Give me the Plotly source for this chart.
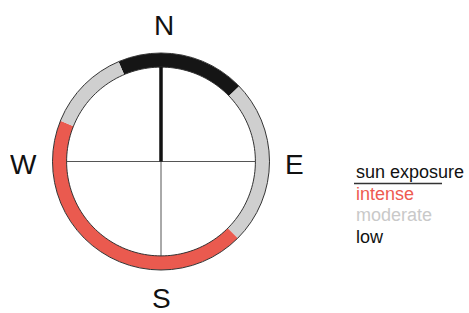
import plotly.graph_objects as go

W, H = 469, 313

# ---- data ----
seg_start = [337, 46, 135, 292]          # bearing (deg, clockwise from N)
seg_end = [46, 135, 292, 337]
seg_level = ["low", "moderate", "intense", "moderate"]
levels = ["intense", "moderate", "low"]
level_colors = {"intense": "#EA5A4F", "moderate": "#CFCFCF", "low": "#151515"}
legend_text_colors = {"intense": "#EE5A50", "moderate": "#C9C9C9", "low": "#111111"}
directions = ["N", "E", "S", "W"]
direction_angles = [0, 90, 180, 270]
legend_title = "sun exposure"

ring_inner = 0.87
ring_outer = 1.0


def px(x):
    return x / W


def py(y):
    return 1 - y / H


fig = go.Figure()

# ring segments
for s, e, lvl in zip(seg_start, seg_end, seg_level):
    span = (e - s) % 360
    center = (s + span / 2) % 360
    fig.add_trace(go.Barpolar(
        r=[ring_outer - ring_inner], base=[ring_inner], theta=[center], width=[span],
        marker=dict(color=level_colors[lvl], line=dict(width=0)),
        showlegend=False, hoverinfo="skip",
    ))

# inner outline of ring
circ_theta = list(range(0, 361, 2))
fig.add_trace(go.Scatterpolar(
    r=[ring_inner] * len(circ_theta), theta=circ_theta, mode="lines",
    line=dict(color="#333333", width=1), showlegend=False, hoverinfo="skip",
))

# thick north needle
fig.add_trace(go.Scatterpolar(
    r=[0, ring_inner], theta=[0, 0], mode="lines",
    line=dict(color="#111111", width=3.5), showlegend=False, hoverinfo="skip",
))

cx, cy, R = 161, 161.5, 108.5
fig.update_layout(
    width=W, height=H,
    margin=dict(l=0, r=0, t=0, b=0),
    paper_bgcolor="white",
    showlegend=False,
    polar=dict(
        domain=dict(x=[px(cx - R), px(cx + R)], y=[py(cy + R), py(cy - R)]),
        bgcolor="white",
        barmode="overlay",
        radialaxis=dict(range=[0, ring_outer], visible=False, showgrid=False),
        angularaxis=dict(
            rotation=90, direction="clockwise",
            tickvals=direction_angles, showticklabels=False, ticks="",
            showgrid=True, gridcolor="#555555", gridwidth=1,
            showline=True, linecolor="#333333", linewidth=1,
        ),
    ),
)

# direction labels
label_pos = {"N": (163.5, 23.5), "E": (294, 162.5), "S": (161.5, 296.5), "W": (23, 162.5)}
for d in directions:
    x, y = label_pos[d]
    fig.add_annotation(
        x=px(x), y=py(y + 1.5), xref="paper", yref="paper", text=d, showarrow=False,
        xanchor="center", yanchor="middle", height=24,
        font=dict(family="Liberation Sans, Arial, sans-serif", size=28, color="#111111"),
    )

# legend
lx = 354
ly0 = 172
dy = 21.7
fig.add_annotation(
    x=px(lx), y=py(ly0), xref="paper", yref="paper", text=legend_title, showarrow=False,
    xanchor="left", yanchor="middle",
    font=dict(family="Liberation Sans, Arial, sans-serif", size=18, color="#111111"),
)
fig.add_shape(type="line", xref="paper", yref="paper",
              x0=px(lx), x1=px(442), y0=py(183.5), y1=py(183.5),
              line=dict(color="#333333", width=1.5))
for i, lvl in enumerate(levels):
    fig.add_annotation(
        x=px(lx), y=py(ly0 + dy * (i + 1)), xref="paper", yref="paper", text=lvl,
        showarrow=False, xanchor="left", yanchor="middle",
        font=dict(family="Liberation Sans, Arial, sans-serif", size=18,
                  color=legend_text_colors[lvl]),
    )

fig.write_html("out.html", config={"displayModeBar": False},
               post_script="document.body.style.margin='0px';")
